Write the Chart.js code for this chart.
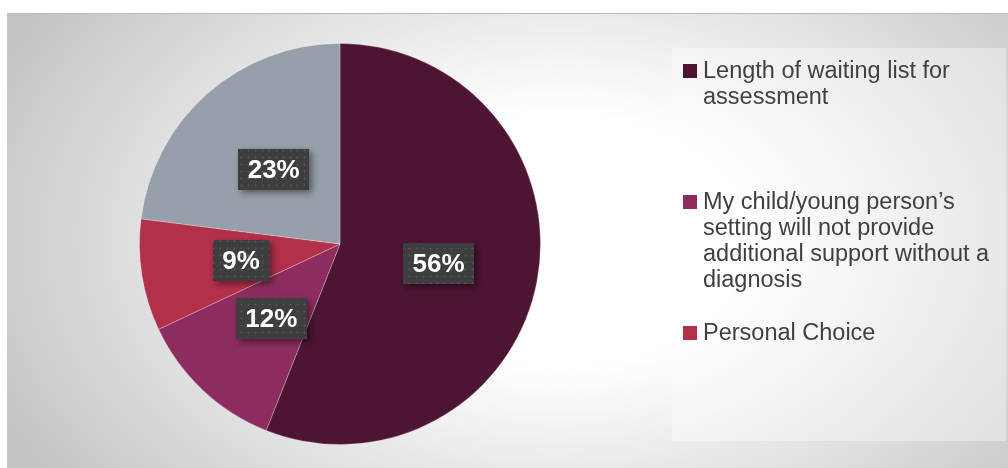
<!DOCTYPE html>
<html>
<head>
<meta charset="utf-8">
<script src="https://cdn.jsdelivr.net/npm/chart.js@4/dist/chart.umd.min.js"></script>
<style>
  html, body { margin: 0; padding: 0; background: #ffffff; }
  #wrap { position: relative; width: 1008px; height: 468px; }
  canvas { display: block; }
</style>
</head>
<body>
<div id="wrap"><canvas id="pie" width="1008" height="468"></canvas></div>
<script>
// Reasons for seeking a diagnosis (share of responses, %)
const categories = [
  'Length of waiting list for assessment',
  'My child/young person\u2019s setting will not provide additional support without a diagnosis',
  'Personal Choice',
  'Other'
];
const shares = [56, 12, 9, 23];
const sliceColors = ['#4e1433', '#8d2d5f', '#b3304b', '#97a0aa'];
// Only the first three reasons appear in the key
const legendCount = 3;

const FONT = '"Liberation Sans", Arial, sans-serif';

// Dotted dark fill for the value badges
function makeDotPattern(ctx) {
  const tile = document.createElement('canvas');
  tile.width = 7; tile.height = 7;
  const t = tile.getContext('2d');
  t.fillStyle = '#3e3e3e';
  t.fillRect(0, 0, 7, 7);
  t.fillStyle = '#555555';
  t.fillRect(3, 3, 1, 1);
  t.fillStyle = '#4a4a4a';
  t.fillRect(2, 3, 1, 1); t.fillRect(4, 3, 1, 1);
  t.fillRect(3, 2, 1, 1); t.fillRect(3, 4, 1, 1);
  return ctx.createPattern(tile, 'repeat');
}

// Panel background: white strip, grey border line, soft radial sheen
const backdrop = {
  id: 'backdrop',
  beforeDraw(chart) {
    const ctx = chart.ctx;
    ctx.save();
    ctx.fillStyle = '#ffffff';
    ctx.fillRect(0, 0, 1008, 468);
    const px = 7, py = 13;
    ctx.save();
    ctx.beginPath();
    ctx.rect(px, py, 1008 - px, 468 - py);
    ctx.clip();
    ctx.translate(560, 240);
    ctx.scale(1.5, 1);
    const g = ctx.createRadialGradient(0, 0, 0, 0, 0, 420);
    g.addColorStop(0, '#ffffff');
    g.addColorStop(0.3, '#ffffff');
    g.addColorStop(1, '#c3c3c3');
    ctx.fillStyle = g;
    ctx.fillRect(-600, -300, 1200, 600);
    ctx.restore();
    ctx.fillStyle = '#b9b9b9';
    ctx.fillRect(px, py, 1008 - px, 1);
    // key panel
    ctx.fillStyle = 'rgba(255,255,255,0.35)';
    ctx.fillRect(672, 48, 334, 393);
    ctx.restore();
  }
};

// Value badges at the middle of each slice
const badges = {
  id: 'badges',
  afterDatasetsDraw(chart) {
    const ctx = chart.ctx;
    const meta = chart.getDatasetMeta(0);
    const pattern = makeDotPattern(ctx);
    ctx.save();
    ctx.font = 'bold 26px ' + FONT;
    ctx.textAlign = 'center';
    ctx.textBaseline = 'middle';
    meta.data.forEach((arc, i) => {
      const p = arc.getCenterPoint();
      const text = shares[i] + '%';
      const w = ctx.measureText(text).width + 19;
      const h = 41;
      const x = Math.round(p.x - w / 2), y = Math.round(p.y - h / 2 + 1);
      ctx.save();
      ctx.shadowColor = 'rgba(0,0,0,0.45)';
      ctx.shadowBlur = 7;
      ctx.shadowOffsetX = 3;
      ctx.shadowOffsetY = 3;
      ctx.fillStyle = pattern;
      ctx.fillRect(x, y, w, h);
      ctx.restore();
      ctx.fillStyle = '#ffffff';
      ctx.fillText(text, p.x, y + h / 2 + 1);
    });
    ctx.restore();
  }
};

// Key on the right with wrapped labels
const keyBox = {
  id: 'keyBox',
  afterDraw(chart) {
    const ctx = chart.ctx;
    const firstLineY = [71, 202, 333];
    const lineH = 26, maxW = 300, textX = 703;
    ctx.save();
    ctx.font = '23.5px ' + FONT;
    ctx.textBaseline = 'middle';
    ctx.textAlign = 'left';
    for (let i = 0; i < legendCount; i++) {
      const words = categories[i].split(' ');
      const lines = [];
      let cur = '';
      words.forEach(wd => {
        const test = cur ? cur + ' ' + wd : wd;
        if (ctx.measureText(test).width > maxW && cur) { lines.push(cur); cur = wd; }
        else cur = test;
      });
      if (cur) lines.push(cur);
      ctx.fillStyle = sliceColors[i];
      ctx.fillRect(683, firstLineY[i] - 7, 14, 14);
      ctx.fillStyle = '#404040';
      lines.forEach((ln, k) => ctx.fillText(ln, textX, firstLineY[i] + 1 + k * lineH));
    }
    ctx.restore();
  }
};

new Chart(document.getElementById('pie'), {
  type: 'pie',
  data: {
    labels: categories,
    datasets: [{
      data: shares,
      backgroundColor: sliceColors,
      borderColor: 'rgba(255,255,255,0.25)',
      borderWidth: 1
    }]
  },
  options: {
    responsive: false,
    animation: false,
    rotation: 0,
    layout: { padding: { left: 139, right: 467, top: 43, bottom: 23 } },
    plugins: {
      legend: { display: false },
      tooltip: { enabled: false },
      title: { display: false }
    }
  },
  plugins: [backdrop, badges, keyBox]
});
</script>
</body>
</html>
